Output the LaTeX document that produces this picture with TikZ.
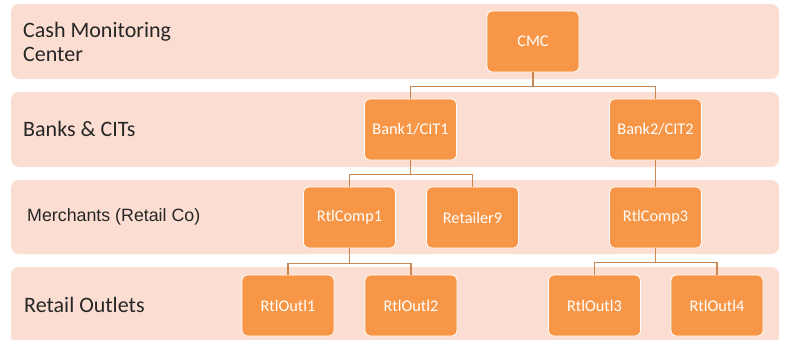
\documentclass[tikz,border=0pt]{standalone}
\usepackage{fontspec}
\setmainfont{Carlito}
\newfontfamily\arialfont{Liberation Sans}
\definecolor{bandfill}{RGB}{251,221,210}
\definecolor{nodefill}{RGB}{247,150,70}
\definecolor{linkcol}{RGB}{205,135,80}
\begin{document}
\begin{tikzpicture}[x=1pt,y=-1pt,
  band/.style={fill=bandfill,draw=none,rounded corners=8pt},
  orgbox/.style={draw=white,line width=0.8pt,fill=nodefill,rounded corners=5pt,minimum width=92pt,minimum height=61pt,inner sep=0pt,text=white,font=\fontsize{16.3}{19}\selectfont},
  bandlabel/.style={anchor=west,align=left,inner sep=0pt,text=black!85,font=\fontsize{22}{24.5}\selectfont},
  link/.style={draw=linkcol,line width=1.2pt}]
\useasboundingbox (0,0) rectangle (785,340);
\fill[white] (0,0) rectangle (785,340);
% bands
\path[band] (11,4) rectangle (779,79);
\path[band] (11,92) rectangle (779,167);
\path[band] (11,180) rectangle (779,254);
\path[band] (11,267) rectangle (779,345);
% band labels
\node[bandlabel] (l1) at (23,42) {Cash Monitoring\\Center};
\node[bandlabel] (l2) at (23,129) {Banks \& CITs};
\node[bandlabel,font=\arialfont\fontsize{17.8}{20}\selectfont] (l3) at (27,217) {Merchants (Retail Co)};
\node[bandlabel] (l4) at (24,305) {Retail Outlets};
% nodes
\node[orgbox] (cmc) at (533,41.5) {CMC};
\node[orgbox] (b1) at (410.5,129.5) {Bank1/CIT1};
\node[orgbox] (b2) at (655.5,129.5) {Bank2/CIT2};
\node[orgbox] (rc1) at (349.5,217.5) {RtlComp1};
\node[orgbox] (r9) at (472.5,217.5) {Retailer9};
\node[orgbox] (rc3) at (655.5,217.5) {RtlComp3};
\node[orgbox] (o1) at (288,305.5) {RtlOutl1};
\node[orgbox] (o2) at (411,305.5) {RtlOutl2};
\node[orgbox] (o3) at (594.5,305.5) {RtlOutl3};
\node[orgbox] (o4) at (717,305.5) {RtlOutl4};
% connectors
\draw[link] (cmc.south) -- ++(0,14) -| (b1.north);
\draw[link] (cmc.south) ++(0,14) -| (b2.north);
\draw[link] (b1.south) -- ++(0,14) -| (rc1.north);
\draw[link] (b1.south) ++(0,14) -| (r9.north);
\draw[link] (b2.south) -- (rc3.north);
\draw[link] (rc1.south) -- ++(0,15) -| (o1.north);
\draw[link] (rc1.south) ++(0,15) -| (o2.north);
\draw[link] (rc3.south) -- ++(0,14) -| (o3.north);
\draw[link] (rc3.south) ++(0,14) -| (o4.north);
\end{tikzpicture}
\end{document}
